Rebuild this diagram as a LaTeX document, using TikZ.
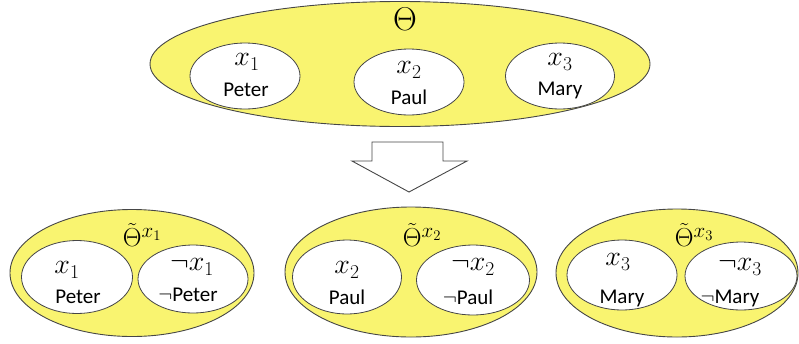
\RequirePackage{fix-cm}
\documentclass[tikz,border=0pt]{standalone}
\usepackage{fontspec}
\newfontfamily\namefont{Carlito}
\usetikzlibrary{shapes.geometric}
\definecolor{setyellow}{RGB}{249,244,112}
\definecolor{rimgray}{RGB}{70,70,70}
\tikzset{
  outerset/.style={ellipse, draw=rimgray, line width=0.9pt, fill=setyellow, inner sep=0pt},
  innerset/.style={ellipse, draw=rimgray, line width=0.8pt, fill=white, inner sep=0pt},
  varlabel/.style={inner sep=0pt, font=\fontsize{28}{30}\selectfont},
  namelabel/.style={inner sep=0pt, font=\namefont\fontsize{21}{23}\selectfont},
  setlabel/.style={inner sep=0pt},
}
% refined-set label: tilde Theta with a large superscript
\newcommand{\refinedset}[1]{{\fontsize{26}{28}\selectfont$\tilde{\Theta}$}\raisebox{9pt}{\fontsize{21}{23}\selectfont$x_{#1}$}}
\begin{document}
\begin{tikzpicture}[x=1pt, y=-1pt]
\useasboundingbox (0,0) rectangle (799,343);

% original set
\node[outerset, minimum width=500pt, minimum height=125pt] (theta) at (400,64) {};
\node[setlabel, font=\fontsize{33}{35}\selectfont] (thetalbl) at (405,19) {Θ};
\node[innerset, minimum width=110pt, minimum height=66pt] (e1) at (245,76) {};
\node[innerset, minimum width=110pt, minimum height=66pt] (e2) at (409,82) {};
\node[innerset, minimum width=109pt, minimum height=66pt] (e3) at (560,76) {};
\node[varlabel] (v1) at (247,62) {$x_1$};
\node[namelabel] (n1) at (246,90) {Peter};
\node[varlabel] (v2) at (409,70) {$x_2$};
\node[namelabel] (n2) at (409,97) {Paul};
\node[varlabel] (v3) at (560,62) {$x_3$};
\node[namelabel] (n3) at (560,90) {Mary};

% block arrow
\draw[rimgray, line width=0.9pt, fill=white]
  (372,142) -- (443,142) -- (443,161) -- (467,161) -- (409,192)
  -- (352,161) -- (372,161) -- cycle;

% refined set for x1
\node[outerset, minimum width=244pt, minimum height=127pt] (t1) at (132,273) {};
\node[setlabel] (t1lbl) at (142,235) {\refinedset{1}};
\node[innerset, minimum width=111pt, minimum height=73pt] (a1) at (77,277) {};
\node[innerset, minimum width=110pt, minimum height=68pt] (b1) at (193,279) {};
\node[varlabel] (av1) at (67,270) {$x_1$};
\node[namelabel] (an1) at (78,297) {Peter};
\node[varlabel] (bv1) at (192,267) {$\neg x_1$};
\node[namelabel] (bn1) at (188,295) {$\neg$Peter};

% refined set for x2
\node[outerset, minimum width=252pt, minimum height=130pt] (t2) at (411,272) {};
\node[setlabel] (t2lbl) at (422,235) {\refinedset{2}};
\node[innerset, minimum width=109pt, minimum height=74pt] (a2) at (347,277) {};
\node[innerset, minimum width=113pt, minimum height=70pt] (b2) at (473,280) {};
\node[varlabel] (av2) at (347,270) {$x_2$};
\node[namelabel] (an2) at (347,297) {Paul};
\node[varlabel] (bv2) at (473,267) {$\neg x_2$};
\node[namelabel] (bn2) at (468,297) {$\neg$Paul};

% refined set for x3
\node[outerset, minimum width=242pt, minimum height=128pt] (t3) at (677,273) {};
\node[setlabel] (t3lbl) at (694,235) {\refinedset{3}};
\node[innerset, minimum width=110pt, minimum height=70pt] (a3) at (622,275) {};
\node[innerset, minimum width=112pt, minimum height=68pt] (b3) at (741,276) {};
\node[varlabel] (av3) at (618,262) {$x_3$};
\node[namelabel] (an3) at (622,298) {Mary};
\node[varlabel] (bv3) at (740,267) {$\neg x_3$};
\node[namelabel] (bn3) at (730,298) {$\neg$Mary};
\end{tikzpicture}
\end{document}
